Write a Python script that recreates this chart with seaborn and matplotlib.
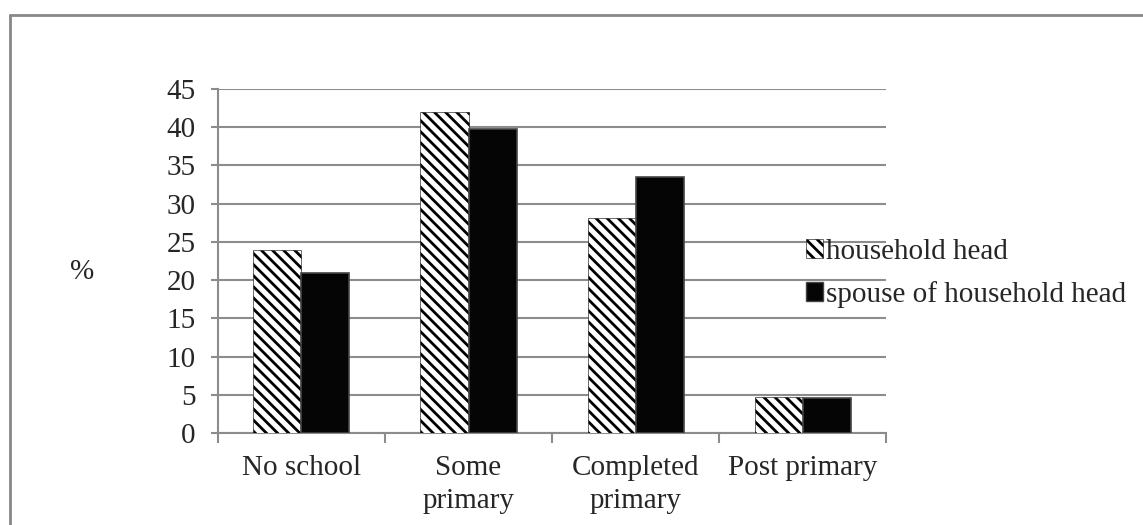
import pandas as pd
import matplotlib.pyplot as plt
import seaborn as sns
from matplotlib.patches import Patch
from matplotlib.lines import Line2D

# values
categories = ["No school", "Some\nprimary", "Completed\nprimary", "Post primary"]
series = ["household head", "spouse of household head"]
household_head = [24.0, 42.0, 28.1, 4.7]
spouse_head = [20.9, 39.8, 33.5, 4.6]
y_ticks = list(range(0, 50, 5))

df = pd.DataFrame({
    "category": categories * 2,
    "group": [series[0]] * 4 + [series[1]] * 4,
    "value": household_head + spouse_head,
})

sns.set_style("white")
plt.rcParams["font.family"] = ["Liberation Serif", "DejaVu Serif"]
plt.rcParams["hatch.linewidth"] = 2.0

fig = plt.figure(figsize=(11.43, 5.25), dpi=100)
ax = fig.add_axes([0.1907, 0.1752, 0.5845, 0.6552])

sns.barplot(data=df, x="category", y="value", hue="group", order=categories,
            hue_order=series, width=0.575, gap=0, palette=["white", "black"],
            ax=ax, legend=False, zorder=3)

n = len(categories)
for i, bar in enumerate(ax.patches[:2 * n]):
    if i < n:
        bar.set_facecolor("white")
        bar.set_edgecolor("black")
        bar.set_hatch("\\\\\\")
        bar.set_linewidth(0.4)
    else:
        bar.set_facecolor("#050505")
        bar.set_edgecolor("#454545")
        bar.set_linewidth(1.2)

ax.set_xlim(-0.5, n - 0.5)
ax.set_ylim(0, 45)
ax.set_yticks(y_ticks)
ax.set_xlabel("")
ax.set_ylabel("")
ax.yaxis.grid(True, color="#8c8c8c", linewidth=1.5, zorder=0)
ax.set_axisbelow(True)

for s in ["top", "right"]:
    ax.spines[s].set_visible(False)
for s in ["left", "bottom"]:
    ax.spines[s].set_color("#8c8c8c")
    ax.spines[s].set_linewidth(1.5)

ax.tick_params(axis="y", direction="out", length=5, width=1.5, color="#8c8c8c",
               labelsize=21, pad=11, left=True)
ax.tick_params(axis="x", which="major", length=0, labelsize=21, pad=16)
ax.set_xticks([i - 0.5 for i in range(n + 1)], minor=True)
ax.tick_params(axis="x", which="minor", direction="out", length=7, width=1.5,
               color="#8c8c8c", bottom=True)
for lab in ax.get_xticklabels():
    lab.set_linespacing(1.35)

ax.text(-0.204, 0.468, "%", transform=ax.transAxes, fontsize=21, ha="center", va="center")

handles = [
    Patch(facecolor="white", edgecolor="black", hatch="\\\\\\", linewidth=0.4),
    Patch(facecolor="#050505", edgecolor="#454545"),
]
fig.legend(handles, series, loc="upper left", bbox_to_anchor=(0.705, 0.545),
           frameon=False, fontsize=21, handlelength=0.6, handleheight=0.6,
           handletextpad=0.1, labelspacing=0.55, borderpad=0, borderaxespad=0)

# chart area border (top and left edges visible)
fig.add_artist(Line2D([0.0087, 1.0], [0.972, 0.972], transform=fig.transFigure,
                      color="#888888", linewidth=2))
fig.add_artist(Line2D([0.0087, 0.0087], [0.0, 0.972], transform=fig.transFigure,
                      color="#888888", linewidth=2))

plt.savefig("out.png", dpi=100)
